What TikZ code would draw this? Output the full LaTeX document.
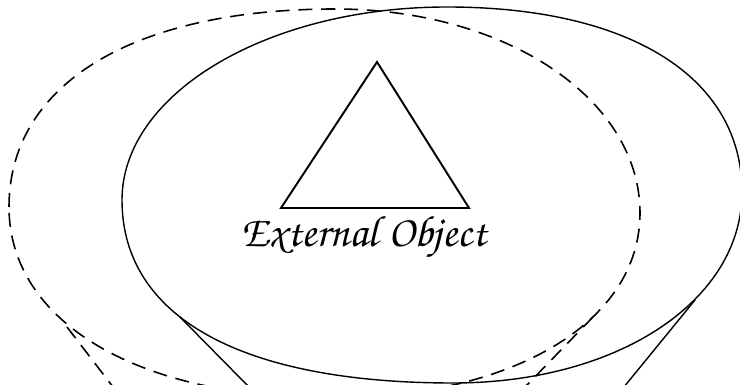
\documentclass[tikz,border=0pt]{standalone}
\usetikzlibrary{calc}

\begin{document}
\begin{tikzpicture}[x=0.2mm, y=-0.2mm,
  rim/.style={line width=0.8pt, line join=round},
  oldrim/.style={line width=0.9pt, dash pattern=on 8pt off 5pt},
  obj/.style={line width=1.1pt, line join=miter},
  lbl/.style={font=\fontencoding{T1}\fontfamily{pzc}\fontsize{25}{30}\selectfont}
]
  \useasboundingbox (0,0) rectangle (740,385);
  \clip (0,0) rectangle (740,385);

  % the object
  \draw[obj] (377,62) coordinate (apex) -- (469,208) coordinate (right)
    -- (281,208) coordinate (left) -- cycle;
  \node[lbl, anchor=base] (name) at (364,247) {External Object};

  % present view (solid)
  \draw[rim] (122,200) .. controls (122,93.5) and (267.6,7) .. (447,7)
    .. controls (629.9,7) and (742,77.3) .. (742,192)
    .. controls (742,300.9) and (617.7,383) .. (453,383)
    .. controls (241.2,383) and (122,317.1) .. (122,200);

  % earlier view (dashed)
  \draw[oldrim] (9,207) .. controls (9,84.2) and (132.9,9) .. (335,9)
    .. controls (505.8,9) and (640,98.8) .. (640,213)
    .. controls (640,322.2) and (512.9,398) .. (330,398)
    .. controls (137.4,398) and (9,321.6) .. (9,207);

  % lines of sight
  \coordinate (eye)    at (454,595);
  \coordinate (oldeye) at (295,624);
  \coordinate (tanL)   at (180,317);
  \coordinate (tanR)   at (695,300);
  \coordinate (oldL)   at (67,327);
  \coordinate (oldR)   at (593,317);

  \draw[rim]    (tanL) -- (eye);
  \draw[rim]    (tanR) -- (eye);
  \draw[oldrim] (oldL) -- (oldeye);
  \draw[oldrim] (oldR) -- (oldeye);
\end{tikzpicture}
\end{document}
